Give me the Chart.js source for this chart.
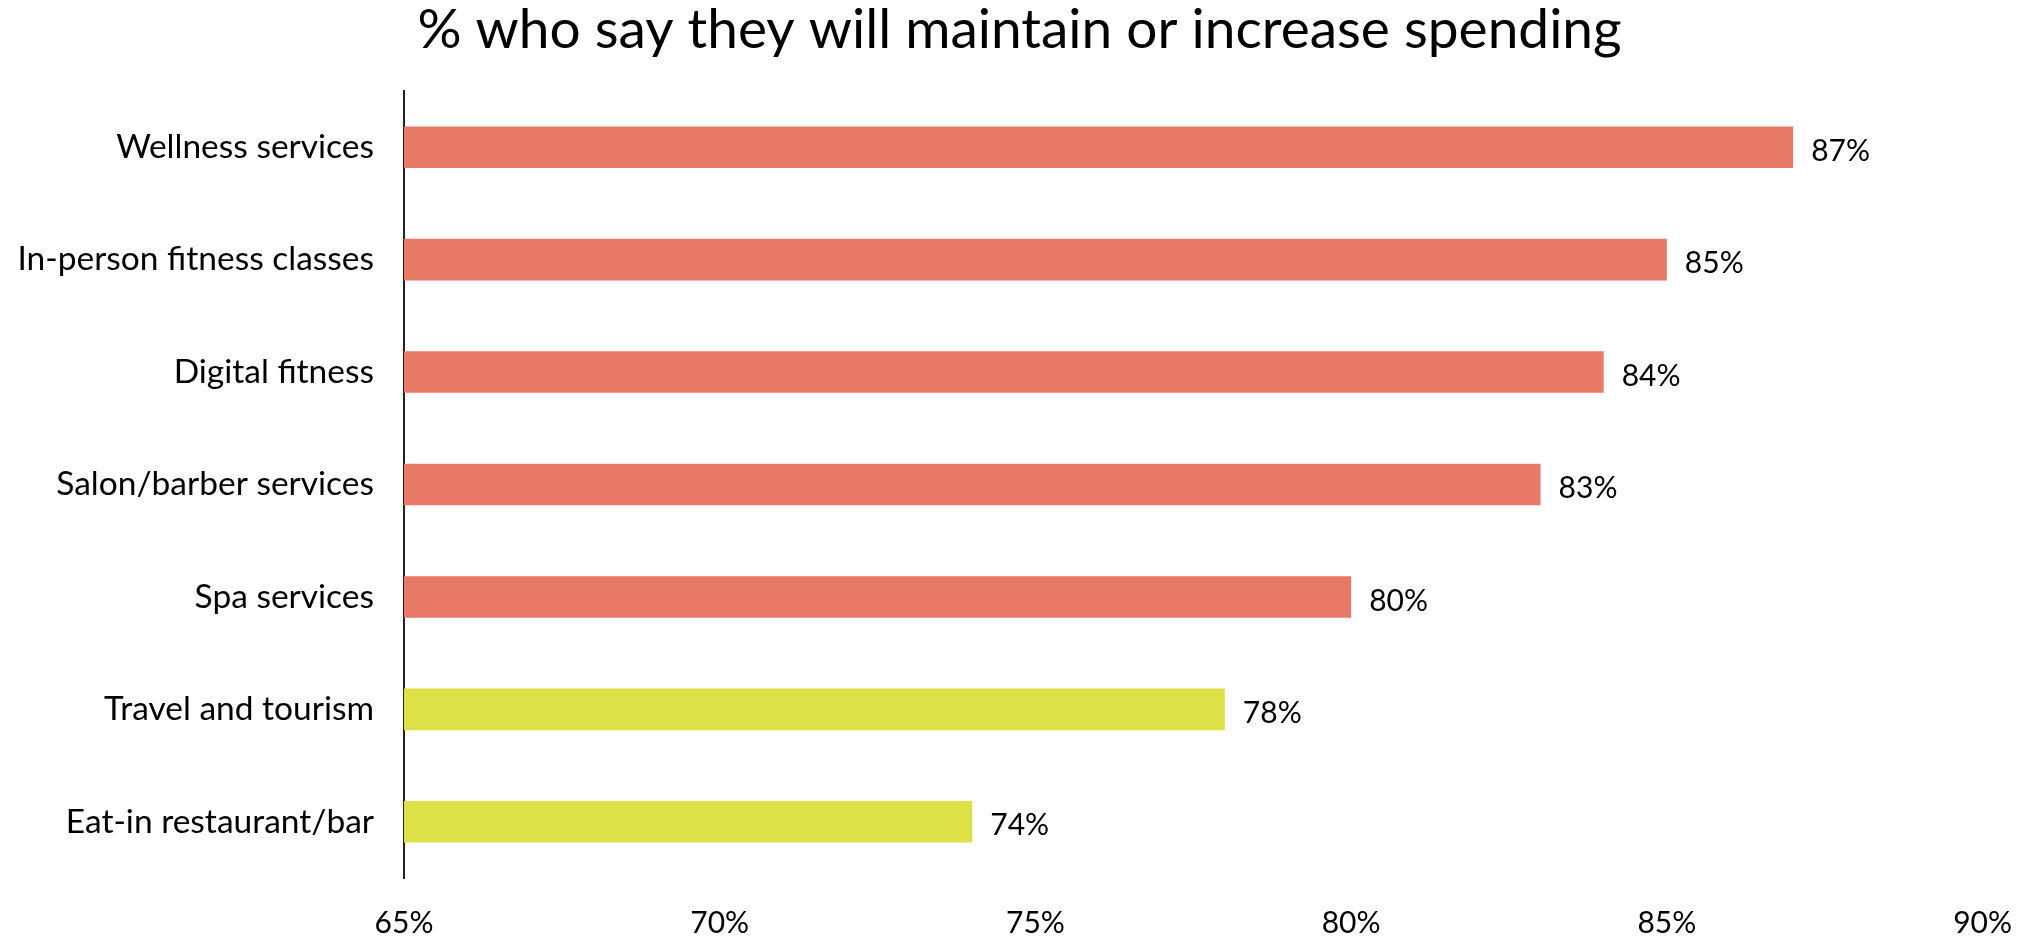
<!DOCTYPE html>
<html>
<head>
<meta charset="utf-8">
<script src="https://cdn.jsdelivr.net/npm/chart.js@4"></script>
<style>
    html, body { margin: 0; padding: 0; background: #ffffff; }
    #contenedor { width: 2039px; height: 938px; }
</style>
</head>
<body>
<div id="contenedor"><canvas id="grafico" width="2039" height="938"></canvas></div>
<script>
// Categorías y porcentajes
const categorias = [
    'Wellness services',
    'In-person fitness classes',
    'Digital fitness',
    'Salon/barber services',
    'Spa services',
    'Travel and tourism',
    'Eat-in restaurant/bar'
];
const porcentajes = [87, 85, 84, 83, 80, 78, 74];
const grupos = ['salud', 'salud', 'salud', 'salud', 'salud', 'ocio', 'ocio'];
const ticksX = [65, 70, 75, 80, 85, 90];
const titulo = '% who say they will maintain or increase spending';

const colores = { salud: '#E77966', ocio: '#DCE246' };
const fuente = "Lato, 'DejaVu Sans', sans-serif";
const peso = 'normal';

// Título centrado sobre todo el lienzo
const tituloCentrado = {
    id: 'tituloCentrado',
    afterDraw(chart) {
        const ctx = chart.ctx;
        ctx.save();
        ctx.font = `${peso} 55px ${fuente}`;
        ctx.fillStyle = '#000000';
        ctx.textAlign = 'center';
        ctx.textBaseline = 'middle';
        ctx.fillText(titulo, chart.width / 2, 30);
        ctx.restore();
    }
};

// Plugin para escribir el valor al final de cada barra
const etiquetasValor = {
    id: 'etiquetasValor',
    afterDatasetsDraw(chart) {
        const ctx = chart.ctx;
        const meta = chart.getDatasetMeta(0);
        ctx.save();
        ctx.font = `${peso} 30px ${fuente}`;
        ctx.fillStyle = '#000000';
        ctx.textAlign = 'left';
        ctx.textBaseline = 'middle';
        meta.data.forEach((barra, i) => {
            ctx.fillText(`${porcentajes[i]}%`, barra.x + 18, barra.y + 4);
        });
        ctx.restore();
    }
};

const ctx = document.getElementById('grafico').getContext('2d');
const grafico = new Chart(ctx, {
    type: 'bar',
    data: {
        labels: categorias,
        datasets: [{
            data: porcentajes,
            backgroundColor: grupos.map(g => colores[g]),
            borderWidth: 0,
            categoryPercentage: 1,
            barPercentage: 0.37
        }]
    },
    options: {
        indexAxis: 'y',
        responsive: false,
        animation: false,
        layout: { padding: { left: 0, right: 56, top: 91, bottom: 0 } },
        plugins: {
            legend: { display: false },
            tooltip: { enabled: false },
            title: { display: false }
        },
        scales: {
            x: {
                type: 'linear',
                min: 65,
                max: 90,
                afterBuildTicks: (escala) => {
                    escala.ticks = ticksX.map(v => ({ value: v }));
                },
                afterFit: (escala) => { escala.height = 60; },
                grid: { display: false, drawTicks: false },
                border: { display: false },
                ticks: {
                    padding: 27,
                    color: '#000000',
                    font: { family: fuente, size: 30, weight: peso },
                    callback: (v) => `${v}%`
                }
            },
            y: {
                grid: { display: false, drawTicks: false },
                border: { display: true, color: '#222222', width: 2 },
                afterFit: (escala) => { escala.width = 404; },
                ticks: {
                    padding: 30,
                    color: '#000000',
                    font: { family: fuente, size: 33.5, weight: peso }
                }
            }
        }
    },
    plugins: [etiquetasValor, tituloCentrado]
});
</script>
</body>
</html>
